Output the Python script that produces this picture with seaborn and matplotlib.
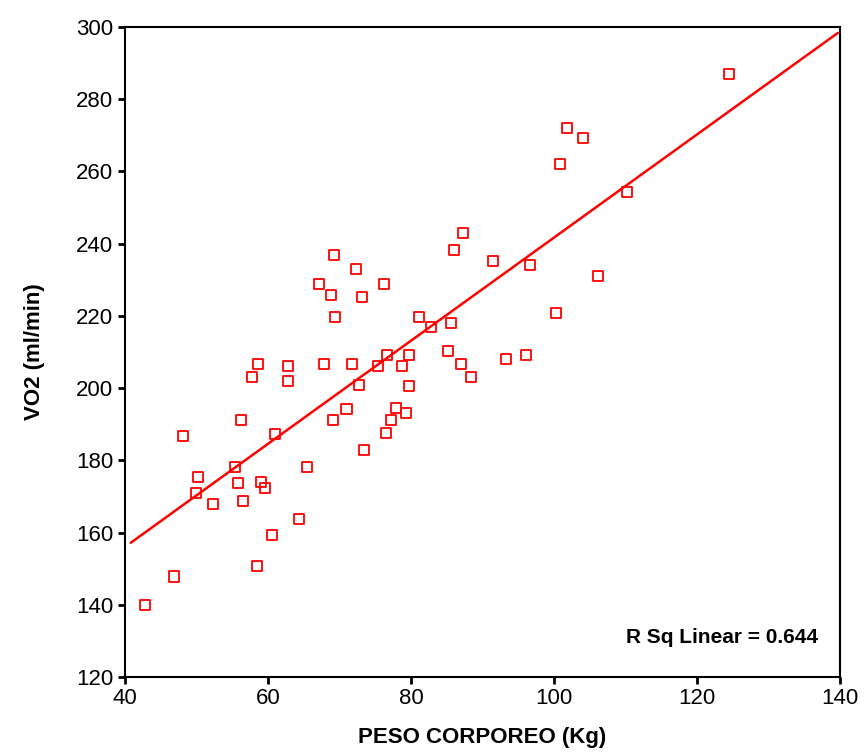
import matplotlib
matplotlib.use("Agg")
import matplotlib.pyplot as plt
import seaborn as sns
import numpy as np
import pandas as pd

peso = [42.8, 46.9, 48.1, 50.2, 49.9, 52.3, 55.4, 55.8, 56.2, 56.5,
        57.8, 58.6, 58.5, 59.0, 59.6, 60.6, 61.0, 62.8, 62.8, 64.3,
        65.5, 67.1, 67.8, 68.8, 69.2, 69.1, 69.4, 71.0, 71.7, 72.3,
        72.7, 73.1, 73.4, 76.2, 75.4, 76.5, 76.6, 77.2, 77.9, 78.7,
        79.3, 79.7, 79.7, 81.1, 82.8, 85.2, 85.6, 86.0, 87.0, 87.3,
        88.4, 91.5, 93.3, 96.1, 96.6, 100.3, 100.8, 101.8, 104.1, 106.2,
        110.2, 124.5]
vo2 = [140.0, 147.8, 186.8, 175.4, 171.0, 168.0, 178.2, 173.8, 191.2, 168.8,
       203.1, 206.7, 150.8, 174.0, 172.4, 159.4, 187.3, 206.2, 202.0, 163.8,
       178.2, 228.9, 206.7, 225.8, 236.9, 191.2, 219.7, 194.3, 206.7, 233.0,
       200.9, 225.3, 182.9, 228.9, 206.2, 187.6, 209.2, 191.2, 194.5, 206.2,
       193.1, 200.6, 209.2, 219.7, 217.0, 210.3, 218.1, 238.3, 206.7, 243.0,
       203.1, 235.2, 208.1, 209.2, 234.1, 220.8, 262.1, 272.0, 269.3, 231.1,
       254.3, 287.0]
x_ticks = [40, 60, 80, 100, 120, 140]
y_ticks = [120, 140, 160, 180, 200, 220, 240, 260, 280, 300]
r2_text = "R Sq Linear = 0.644"

df = pd.DataFrame({"peso": peso, "vo2": vo2})

sns.set_style("white")
plt.rcParams["font.family"] = ["Liberation Sans", "DejaVu Sans"]
plt.rcParams["text.color"] = "black"
plt.rcParams["axes.labelcolor"] = "black"
plt.rcParams["xtick.color"] = "black"
plt.rcParams["ytick.color"] = "black"

fig = plt.figure(figsize=(8.66, 7.53), dpi=100)
ax = fig.add_axes([125/866, 1-677/753, 715/866, 650/753])
ax.set_xlim(40.8, 139.7)
ax.set_ylim(120, 300)

sns.regplot(data=df, x="peso", y="vo2", ax=ax, scatter=False, ci=None,
            truncate=False, color="#ff0000", line_kws={"linewidth": 1.8})
sns.scatterplot(data=df, x="peso", y="vo2", ax=ax, marker="s", s=55,
                facecolor="none", edgecolor="#ff0000", linewidth=1.3)

ax.set_xlim(40, 140)
ax.set_ylim(120, 300)
ax.set_xticks(x_ticks)
ax.set_yticks(y_ticks)
ax.tick_params(axis="both", direction="out", length=5, width=2,
               labelsize=16, color="black", labelcolor="black",
               left=True, bottom=True)
ax.tick_params(axis="x", pad=3)
for sp in ax.spines.values():
    sp.set_visible(True)
    sp.set_color("black")
    sp.set_linewidth(1.5)

ax.set_xlabel("PESO CORPOREO (Kg)", fontsize=16, fontweight="bold", labelpad=13)
ax.set_ylabel("VO2 (ml/min)", fontsize=16, fontweight="bold", labelpad=22)

ax.text(0.969, 0.0615, r2_text, transform=ax.transAxes, ha="right",
        va="center", fontsize=15, fontweight="bold")

fig.savefig("out.png", dpi=100)
